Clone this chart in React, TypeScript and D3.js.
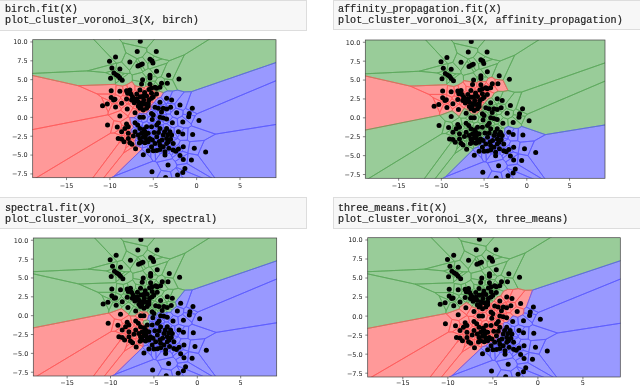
import React from "react";
import * as d3 from "d3";

type P = [number, number];

const X: P[] = [
[-6.5,10.09],[-6.85,8.72],[-4.65,8.72],[-9.35,8.0],[-10.04,7.43],[-7.7,7.35],[-5.38,7.7],[-5.15,7.52],[-5.04,7.2],[-6.27,7.08],[-6.5,6.95],[-6.77,6.81],
[-9.77,6.55],[-8.85,6.42],[-4.62,6.1],[-9.54,5.88],[-9.27,5.66],[-9.04,5.49],[-8.85,5.22],[-8.58,4.91],[-9.92,5.18],[-3.23,5.58],[-2.04,5.09],[-5.38,5.58],
[-5.38,5.22],[-6.23,5.0],[-6.35,4.42],[-5.38,4.38],[-4.04,4.51],[-3.38,4.51],[-4.8,3.98],[-5.2,3.85],[-5.5,3.7],
[-9.85,3.54],[-8.85,3.45],[-8.08,3.54],[-7.7,3.63],[-7.96,3.19],[-7.58,3.1],[-6.54,3.63],[-6.9,3.1],[-9.85,2.65],[-9.58,2.3],[-9.42,2.39],[-8.08,2.43],[-7.3,2.48],
[-6.9,2.48],[-6.5,2.74],[-6.15,2.83],[-5.77,2.83],[-7.5,2.3],[-7.1,2.2],[-6.73,2.08],[-7.2,1.95],[-6.35,1.86],[-5.96,1.77],[-5.58,1.86],[-5.2,2.52],[-5,2.74],
[-4.62,3.1],[-4.62,3.85],[-4.23,3.98],[-8.65,1.86],[-8,1.1],[-9.35,1.37],[-10.3,1.77],[-10.85,1.55],[-8.85,0.18],[-10.27,-1.02],[-6.54,1.2],[-6.15,0.97],[-5.77,1.2],
[-6.73,1.5],[-5.58,1.5],[-7.1,0.62],[-6.1,2.3],[-6.4,1.45],[-5.5,2.3],[-5.2,3.2],[-6.0,3.3],[-7.4,2.75],
[-3.46,2.52],[-4.23,2],[-2.88,2.3],[-3.85,1.2],[-4.42,1.2],[-4.8,1.33],[-3.46,1.1],[-1.92,1.64],[-3.0,1.35],[-0.5,1.2],[-0.85,0.53],[-0.92,0.09],[0.27,-0.4],[-2.3,0.62],[-4.05,0.7],
[-5.2,0.53],[-5,0.3],[-6.54,0],[-6.15,0],[-4.23,0],[-3.85,-0.09],[-3.46,-0.22],[-5.12,-0.27],[-2.8,-0.7],[-1.6,-0.6],[-4.4,-0.7],[-7.1,-0.7],[-8.08,-0.88],[-7.88,-1.24],
[-8.27,-1.46],[-9.15,-1.28],[-8.65,-1.9],[-7.88,-2.12],[-6.8,-1.0],[-6.54,-1.46],[-5.77,-1.24],[-5.2,-1.24],[-4.6,-1],[-4.23,-1.46],[-3.46,-1.46],[-3.08,-1.9],[-2.1,-1.9],
[-1.6,-2.2],[-0.46,-2.26],[-7.1,-1.9],[-7.3,-2.48],[-6.73,-2.35],[-6.35,-2.12],[-5.96,-1.9],[-5.58,-2.12],[-6.54,-2.8],[-6.15,-2.65],[-5.77,-2.92],[-6.35,-3.23],[-5.96,-3.36],
[-5.58,-3.23],[-9.04,-2.8],[-8.65,-2.88],[-7.88,-2.8],[-8.38,-3.23],[-7.7,-3.36],[-7.46,-3.58],[-7.04,-4.16],[-4.6,-2.57],[-3.85,-2.35],[-3.46,-2.8],[-2.88,-2.35],[-3.27,-3.23],
[-2.7,-3.45],[-3.46,-3.45],[-3.85,-3.9],[-4.23,-3.67],[-4.8,-3.45],[-5.2,-3.9],[-5.58,-4.42],[-5,-4.42],[-4.23,-4.25],[-3.65,-4.56],[-3.65,-5],[-2.7,-4.34],[-2.1,-4.2],[-1.54,-3.9],
[-0.27,-4.1],[1.04,-4.6],[-6.15,-4.96],[-1.92,-5.04],[-1.54,-5.58],[-0.6,-5.66],[-3.3,-6.33],[-5.15,-7.2],[-1.35,-6.77],[-1.6,-7.3],[-2.2,-7.65],[-3.58,-7.96],
[-4.9,-2.0],[-4.0,-3.0],[-3.0,-2.9],[-5.9,-2.4],[-5.4,-2.8],[-2.4,-4.5],[-4.6,-4.4],[-3.2,-4.1],[-6.1,-1.6],[-4.4,-2.0],[-3.7,-1.9],[-3.3,-2.3],[-5.1,-3.0],[-4.3,-3.2],[-6.6,-3.4],
];

const far = 60;
const birchRed: P[] = [[-20,5.9],[-13.2,4.35],[-8.2,4.45],[-7,4.2],[-5.6,4.15],[-3.85,3.6],[-5.4,1.4],[-7.3,0.3],[-7.5,-2],[-6.5,-3.9],[-9.7,-8.5],[-20,-9]];
const birchBlue: P[] = [[-3.85,3.6],[-5.4,1.4],[-7.3,0.3],[-7.5,-2],[-6.5,-3.9],[-9.7,-8.5],[far,-9],[far,27],[-1.7,3.45]];
const affinityRed: P[] = [[-20,5.9],[-13.2,4.35],[-8,4.4],[-7,4.8],[-5.5,5.1],[-2.5,5.2],[-2,3.7],[-4,3.5],[-4.3,2],[-5.5,0.8],[-7.5,0.8],[-10,0.2],[-20,-1.9]];
const affinityBlue: P[] = [[-9.4,-8.5],[-6.9,-6],[-6,-3.8],[-4.6,-2.5],[-2.7,-1.86],[-1.5,-1.4],[0.4,-2.3],[far,-0.85],[far,-9]];
const spectralRed: P[] = [[-20,-1.9],[-8.7,0.75],[-7.4,0.45],[-5.85,0.5],[-5.85,-3],[-6.8,-4.6],[-9.7,-8.5],[-20,-9]];
const spectralBlue: P[] = [[-9.7,-8.5],[-6.8,-4.6],[-5.85,-3],[-5.5,-1.5],[-5.65,-0.13],[-4.3,0.3],[-3.15,0.53],[-2,3.4],[-0.65,3.5],[far,27],[far,-9]];
const threeMeansRed: P[] = [[-20,-1.9],[-9.8,0.5],[-8.3,1.6],[-6.85,1.4],[-5,1.8],[-3.5,2.9],[-2,3.35],[-0.6,3.45],[-1.5,1.2],[-2.4,-0.13],[-3.9,-1.66],[-5,-3.2],[-7.2,-4.7],[-9.8,-8.5],[-20,-9]];
const threeMeansBlue: P[] = [[-0.6,3.45],[-1.5,1.2],[-2.4,-0.13],[-3.9,-1.66],[-5,-3.2],[-7.2,-4.7],[-9.8,-8.5],[far,-9],[far,27]];

const xTicks = [-15, -10, -5, 0, 5];
const yTicks = [-7.5, -5, -2.5, 0, 2.5, 5, 7.5, 10];
const xDomain: P = [-18.9, 9.15];
const yDomain: P = [-8.0, 10.3];

const colors: Record<string, { fill: string; stroke: string }> = {
  r: { fill: "#ff9999", stroke: "#ff5c5c" },
  g: { fill: "#99cc99", stroke: "#5ca85c" },
  b: { fill: "#9999ff", stroke: "#5c5cff" },
};

const panels = [
  { lines: ["birch.fit(X)", "plot_cluster_voronoi_3(X, birch)"], red: birchRed, blue: birchBlue,
    box: [-1, 0, 307, 30], tx: 5, ty: 12, xl: 187.5, ax: [32.7, 276, 39.7, 177.7] },
  { lines: ["affinity_propagation.fit(X)", "plot_cluster_voronoi_3(X, affinity_propagation)"], red: affinityRed, blue: affinityBlue,
    box: [333, 0, 308, 29], tx: 338, ty: 12, xl: 187.5, ax: [365.3, 605, 40, 178.3] },
  { lines: ["spectral.fit(X)", "plot_cluster_voronoi_3(X, spectral)"], red: spectralRed, blue: spectralBlue,
    box: [-1, 197, 307, 31], tx: 5, ty: 211, xl: 385, ax: [33.3, 276.7, 238, 376] },
  { lines: ["three_means.fit(X)", "plot_cluster_voronoi_3(X, three_means)"], red: threeMeansRed, blue: threeMeansBlue,
    box: [333, 197, 308, 31], tx: 338, ty: 211, xl: 385.3, ax: [367.7, 620.3, 237.7, 377] },
];

const voronoi = d3.Delaunay.from(X).voronoi([-200, -200, 200, 200]);
const fmtY = (v: number) => v.toFixed(1).replace("-", "\u2212");
const fmtX = (v: number) => String(v).replace("-", "\u2212");

function Panel({ p, i }: { p: (typeof panels)[number]; i: number }) {
  const [x0, x1, y0, y1] = p.ax;
  const x = d3.scaleLinear().domain(xDomain).range([x0, x1]);
  const y = d3.scaleLinear().domain(yDomain).range([y1, y0]);
  const line = d3.line<number[]>().x((d) => x(d[0])).y((d) => y(d[1]));
  const label = (pt: P) =>
    d3.polygonContains(p.red, pt) ? "r" : d3.polygonContains(p.blue, pt) ? "b" : "g";
  const [bx, by, bw, bh] = p.box;
  return (
    <g>
      <rect x={bx + 0.5} y={by + 0.5} width={bw} height={bh} fill="#f7f7f7" stroke="#dddddd" />
      {p.lines.map((t, k) => (
        <text key={k} x={p.tx} y={p.ty + k * 11.3} fontFamily="'Liberation Mono', monospace" fontSize={10.1} fill="#222" stroke="#222" strokeWidth={0.2}>{t}</text>
      ))}
      <clipPath id={`clip${i}`}><rect x={x0} y={y0} width={x1 - x0} height={y1 - y0} /></clipPath>
      <g clipPath={`url(#clip${i})`}>
        {X.map((pt, k) => {
          const c = colors[label(pt)];
          const poly = voronoi.cellPolygon(k);
          return poly ? <path key={k} d={line(poly as number[][]) + "Z"} fill={c.fill} stroke={c.fill} strokeWidth={0.8} /> : null;
        })}
        {X.map((pt, k) => {
          const c = colors[label(pt)];
          const poly = voronoi.cellPolygon(k);
          return poly ? <path key={k} d={line(poly as number[][]) + "Z"} fill="none" stroke={c.stroke} strokeWidth={0.8} /> : null;
        })}
        {X.map((pt, k) => <circle key={k} cx={x(pt[0])} cy={y(pt[1])} r={2.5} fill="#000" />)}
      </g>
      <rect x={x0} y={y0} width={x1 - x0} height={y1 - y0} fill="none" stroke="#444" strokeWidth={0.7} />
      {xTicks.map((t) => (
        <g key={t}>
          <line x1={x(t)} x2={x(t)} y1={y1} y2={y1 + 2.4} stroke="#333" strokeWidth={0.6} />
          <text x={x(t)} y={p.xl} textAnchor="middle" fontFamily="'DejaVu Sans'" fontSize={6.5} fill="#222">{fmtX(t)}</text>
        </g>
      ))}
      {yTicks.map((t) => (
        <g key={t}>
          <line x1={x0 - 2.4} x2={x0} y1={y(t)} y2={y(t)} stroke="#333" strokeWidth={0.6} />
          <text x={x0 - 5} y={y(t) + 2.4} textAnchor="end" fontFamily="'DejaVu Sans'" fontSize={6.5} fill="#222">{fmtY(t)}</text>
        </g>
      ))}
    </g>
  );
}

export default function App() {
  return (
    <svg width={640} height={387} viewBox="0 0 640 387" style={{ position: "absolute", left: 0, top: 0, display: "block", background: "#fff" }}>
      <defs>
        <filter id="soft" x="0" y="0" width="100%" height="100%">
          <feGaussianBlur stdDeviation={0.4} />
        </filter>
      </defs>
      <g filter="url(#soft)">
        <rect width={640} height={387} fill="#fff" />
        {panels.map((p, i) => <Panel key={i} p={p} i={i} />)}
      </g>
    </svg>
  );
}
